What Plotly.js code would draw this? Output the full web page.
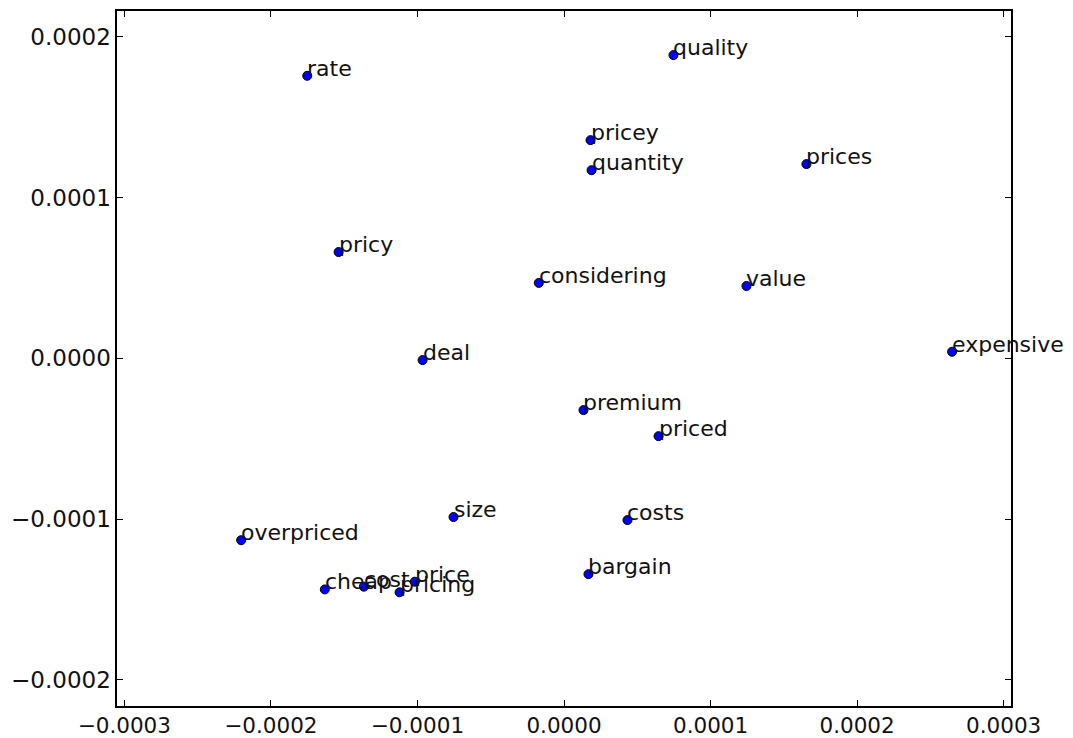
<!DOCTYPE html>
<html>
<head>
<meta charset="utf-8">
<script src="https://cdn.plot.ly/plotly-3.0.1.min.js"></script>
<style>html,body{margin:0;padding:0;background:#fff;}#chart{width:1073px;height:738px;}</style>
</head>
<body>
<div id="chart"></div>
<script>
const words = ["rate","quality","pricey","quantity","prices","pricy","considering","value","expensive","deal","premium","priced","size","costs","overpriced","bargain","cheap","cost","pricing","price"];
const xValues = [-1.752e-4, 0.747e-4, 0.181e-4, 0.188e-4, 1.654e-4, -1.538e-4, -0.172e-4, 1.245e-4, 2.648e-4, -0.965e-4, 0.133e-4, 0.645e-4, -0.754e-4, 0.433e-4, -2.203e-4, 0.167e-4, -1.632e-4, -1.366e-4, -1.122e-4, -1.018e-4];
const yValues = [1.757e-4, 1.886e-4, 1.357e-4, 1.170e-4, 1.208e-4, 0.661e-4, 0.469e-4, 0.450e-4, 0.041e-4, -0.011e-4, -0.322e-4, -0.484e-4, -0.987e-4, -1.006e-4, -1.131e-4, -1.342e-4, -1.437e-4, -1.420e-4, -1.455e-4, -1.389e-4];
const xTicks = [-0.0003, -0.0002, -0.0001, 0, 0.0001, 0.0002, 0.0003];
const xTickLabels = ["\u22120.0003", "\u22120.0002", "\u22120.0001", "0.0000", "0.0001", "0.0002", "0.0003"];
const yTicks = [-0.0002, -0.0001, 0, 0.0001, 0.0002];
const yTickLabels = ["\u22120.0002", "\u22120.0001", "0.0000", "0.0001", "0.0002"];

const font = "DejaVu Sans";
const trace = {
  x: xValues, y: yValues, mode: "markers", type: "scatter",
  marker: {color: "#0000ff", size: 9, line: {color: "#000", width: 1}},
  hoverinfo: "text", text: words
};
const annotations = words.map((w, i) => ({
  x: xValues[i], y: yValues[i], xref: "x", yref: "y", text: w,
  showarrow: false, xanchor: "left", yanchor: "bottom", xshift: -2, yshift: -7,
  font: {family: font, size: 22, color: "#111"}
}));
const axisCommon = {
  showgrid: false, zeroline: false, showline: true, linecolor: "#000", linewidth: 1.6,
  mirror: "allticks", ticks: "inside", ticklen: 6, tickwidth: 1, tickcolor: "#000",
  tickmode: "array"
};
const layout = {
  width: 1073, height: 738,
  margin: {l: 117, r: 62, t: 11, b: 32, pad: 0},
  paper_bgcolor: "#fff", plot_bgcolor: "#fff",
  showlegend: false,
  xaxis: Object.assign({}, axisCommon, {range: [-0.000305, 0.000305], tickvals: xTicks, ticktext: xTickLabels,
    tickfont: {family: font, size: 21.5, color: "#111"}}),
  yaxis: Object.assign({}, axisCommon, {range: [-0.0002162, 0.000216], tickvals: yTicks, ticktext: yTickLabels,
    tickfont: {family: font, size: 23, color: "#111"}}),
  annotations: annotations
};
Plotly.newPlot("chart", [trace], layout, {displayModeBar: false, staticPlot: true});
</script>
</body>
</html>
